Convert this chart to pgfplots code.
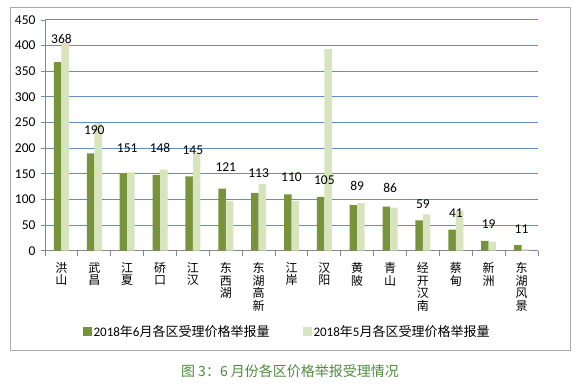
\documentclass[border=0pt]{standalone}
\usepackage{fontspec}
\setmainfont{Carlito}
\newfontfamily\cjk{Noto Sans CJK SC}
\usepackage{pgfplots}
\pgfplotsset{compat=1.18}
\usepackage{pgfplotstable}
\definecolor{dk}{RGB}{119,147,60}
\definecolor{lt}{RGB}{215,228,189}
\definecolor{gridc}{RGB}{100,140,200}
\definecolor{ttl}{RGB}{80,140,60}
\definecolor{axc}{RGB}{134,134,134}
\definecolor{frm}{RGB}{170,170,170}
\newcommand\zh[1]{{\cjk #1}}

\pgfplotstableread{
x jun may off
0 368 405 14.5
1 190 249 15.5
2 151 153 17.5
3 148 158 18.5
4 145 190 18.5
5 121 97 13.5
6 113 130 11.5
7 110 97 9.5
8 105 393 8.5
9 89 93 10.5
10 86 84 10.5
11 59 71 8.5
12 41 77 8.5
13 19 17 9
14 11 3 8
}\data

\begin{document}
\begin{tikzpicture}[x=1bp,y=1bp]
\path[use as bounding box] (0,0) rectangle (580,383);
\draw[frm, line width=0.9bp] (10,33) rectangle (570,376);
\begin{axis}[
  /pgf/number format/assume math mode=true,
  at={(45bp,132.3bp)}, anchor=south west,
  scale only axis, width=493bp, height=230.7bp,
  xmin=-0.5, xmax=14.5, ymin=0, ymax=450,
  ytick={0,50,...,450},
  xtick={0,...,14},
  minor xtick={-0.5,0.5,...,14.5},
  xticklabels={{洪\\山},{武\\昌},{江\\夏},{硚\\口},{江\\汉},{东\\西\\湖},{东\\湖\\高\\新},{江\\岸},{汉\\阳},{黄\\陂},{青\\山},{经\\开\\汉\\南},{蔡\\甸},{新\\洲},{东\\湖\\风\\景}},
  axis lines=left,
  axis line style={-, axc, line width=0.9bp},
  tick align=outside,
  major tick length=4bp, minor tick length=5bp,
  major x tick style={draw=none},
  minor x tick style={axc, line width=0.9bp},
  ytick style={axc, line width=0.9bp},
  ymajorgrids,
  grid style={gridc, line width=1bp},
  tick label style={font=\fontsize{13.5bp}{15bp}\selectfont},
  yticklabel style={xshift=-2bp},
  xticklabel style={font=\fontsize{12bp}{12.7bp}\selectfont\cjk, align=center, anchor=north, yshift=-4bp},
  legend columns=2,
  legend style={at={(0.491,-0.352)}, anchor=center, draw=none, fill=none,
    font=\fontsize{13bp}{15bp}\selectfont,
    /tikz/every even column/.append style={column sep=31bp}},
  legend image code/.code={\fill[#1] (0bp,-4.5bp) rectangle (9bp,4.5bp);},
  clip=false,
]
\addlegendimage{fill=dk, draw=none}
\addlegendentry{2018\zh{年}6\zh{月各区受理价格举报量}}
\addlegendimage{fill=lt, draw=none}
\addlegendentry{2018\zh{年}5\zh{月各区受理价格举报量}}
\addplot[forget plot, ybar, bar width=7.5bp, bar shift=-3.75bp, fill=dk, draw=none,
  point meta=explicit symbolic,
  visualization depends on={rawy\as\rawy},
  nodes near coords={\pgfmathprintnumber[assume math mode=true]{\rawy}},
  every node near coord/.append style={anchor=south, yshift=\pgfplotspointmeta*1bp, font=\fontsize{13.5bp}{15bp}\selectfont, text=black},
] table[x=x, y=jun, meta=off] {\data};
\addplot[forget plot, ybar, bar width=7.5bp, bar shift=3.75bp, fill=lt, draw=none] table[x=x, y=may] {\data};
\end{axis}
\node[text=ttl, font=\cjk\fontsize{14bp}{16bp}\selectfont] at (290,12.3) {图 3：6 月份各区价格举报受理情况};
\end{tikzpicture}
\end{document}
